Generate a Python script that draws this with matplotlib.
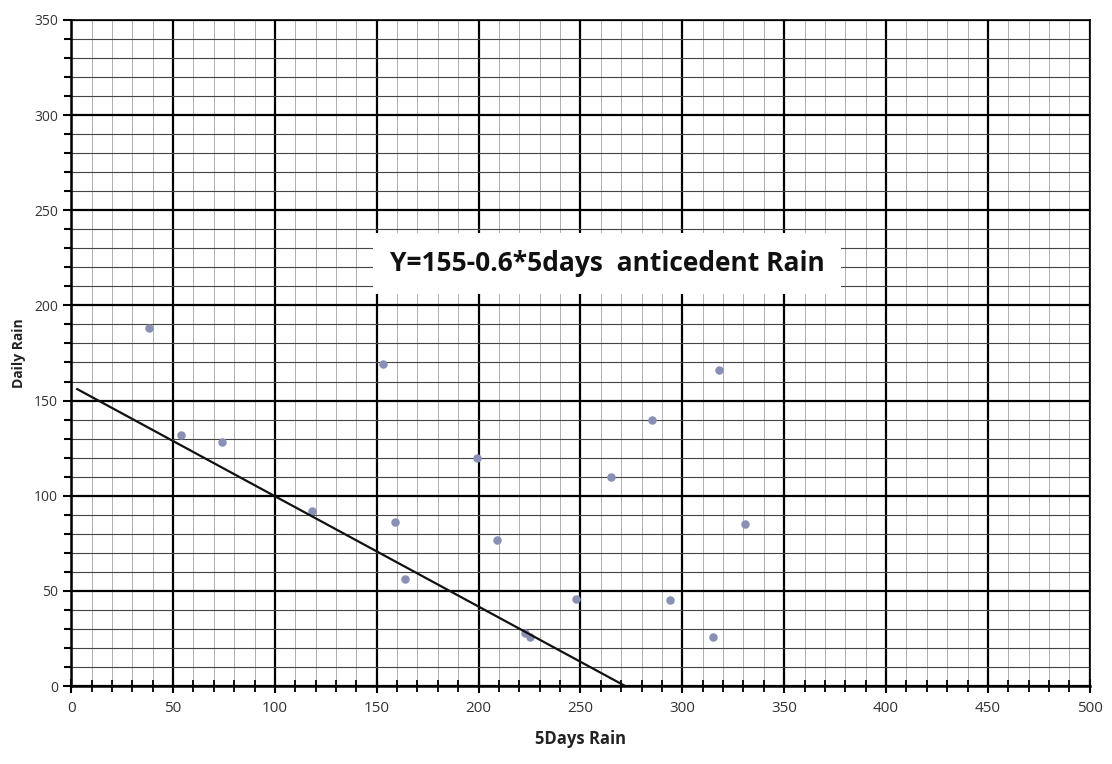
import matplotlib.pyplot as plt
from matplotlib.ticker import MultipleLocator

# data
five_day_rain = [38, 54, 74, 118, 153, 159, 164, 199, 209, 223, 225,
                 248, 265, 285, 294, 315, 318, 331]
daily_rain = [188, 132, 128, 92, 169, 86, 56, 120, 77, 28, 26,
              46, 110, 140, 45, 26, 166, 85]

# regression line as drawn
fit_x = [3, 272]
fit_y = [156, 0]

label_text = "Y=155-0.6*5days  anticedent Rain"

plt.rcParams['font.family'] = ['Open Sans', 'DejaVu Sans']

fig = plt.figure(figsize=(11.12, 7.64), dpi=100)
ax = fig.add_axes([0.064, 0.102, 0.916, 0.872])

ax.set_xlim(0, 500)
ax.set_ylim(0, 350)

ax.xaxis.set_major_locator(MultipleLocator(50))
ax.xaxis.set_minor_locator(MultipleLocator(10))
ax.yaxis.set_major_locator(MultipleLocator(50))
ax.yaxis.set_minor_locator(MultipleLocator(10))

# graph-paper grid
ax.grid(which='major', axis='both', color='black', linewidth=1.6)
ax.grid(which='minor', axis='y', color='#444444', linewidth=0.8)
ax.grid(which='minor', axis='x', color='#b0b0b0', linewidth=0.7)
ax.set_axisbelow(True)

for side in ['top', 'right']:
    ax.spines[side].set_linewidth(1.2)
for side in ['left', 'bottom']:
    ax.spines[side].set_linewidth(1.8)

ax.tick_params(which='both', direction='out', color='black')
ax.tick_params(axis='y', which='major', length=6, width=1.5, labelsize=10, labelcolor='#333333')
ax.tick_params(axis='y', which='minor', length=5, width=1.5)
ax.tick_params(axis='x', which='major', direction='inout', length=10, width=1.5,
               labelsize=11, labelcolor='#333333', pad=6)
ax.tick_params(axis='x', which='minor', direction='inout', length=9, width=1.3)

ax.scatter(five_day_rain, daily_rain, s=26, color='#8890b5', zorder=3)
ax.plot(fit_x, fit_y, color='#111111', linewidth=1.6, zorder=4)

ax.text(263, 222, label_text, fontsize=19, fontweight='bold', ha='center', va='center',
        color='#111111', zorder=5,
        bbox=dict(facecolor='white', edgecolor='none', pad=12))

ax.set_xlabel('5Days Rain', fontsize=12, fontweight='bold', color='#222222', labelpad=10)
ax.set_ylabel('Daily Rain', fontsize=10, fontweight='bold', color='#222222', labelpad=6)

fig.savefig('out.png', dpi=100, facecolor='white')
